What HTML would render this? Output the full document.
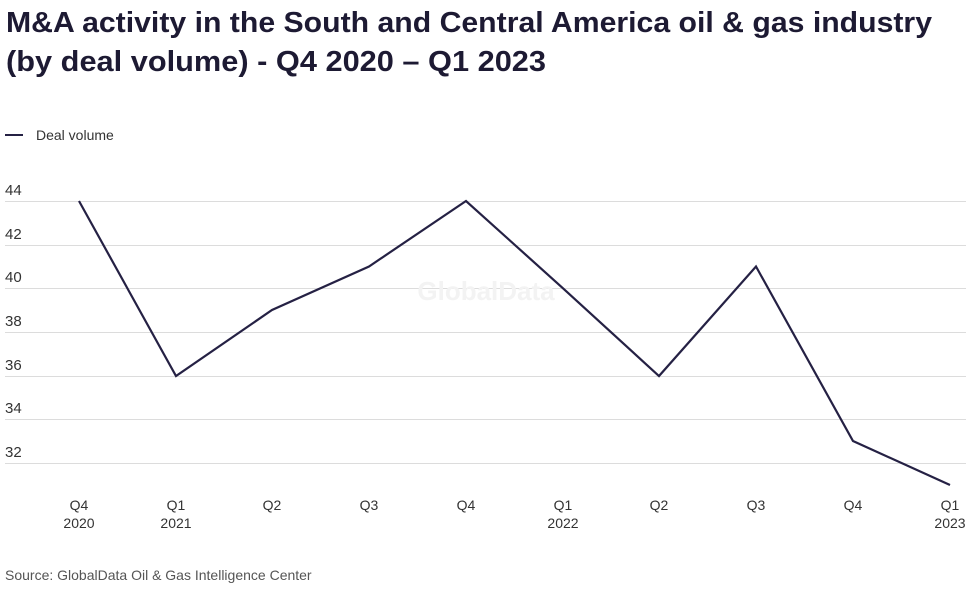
<!DOCTYPE html>
<html><head><style>
body{margin:0;background:#fff;width:973px;height:591px;overflow:hidden;font-family:"Liberation Sans",sans-serif;}
</style></head><body>
<svg width="973" height="591" xmlns="http://www.w3.org/2000/svg" font-family="Liberation Sans, sans-serif">
<text x="6" y="32" font-size="29" font-weight="bold" fill="#1d1a33" textLength="926" lengthAdjust="spacingAndGlyphs">M&amp;A activity in the South and Central America oil &amp; gas industry</text>
<text x="6" y="71" font-size="29" font-weight="bold" fill="#1d1a33" textLength="540" lengthAdjust="spacingAndGlyphs">(by deal volume) - Q4 2020 – Q1 2023</text>
<line x1="5" y1="135" x2="23" y2="135" stroke="#252144" stroke-width="2"/>
<text x="36" y="140" font-size="14" fill="#333">Deal volume</text>
<g stroke="#dcdcdc" stroke-width="1">
<line x1="5" x2="966" y1="201.5" y2="201.5"/>
<line x1="5" x2="966" y1="245.5" y2="245.5"/>
<line x1="5" x2="966" y1="288.5" y2="288.5"/>
<line x1="5" x2="966" y1="332.5" y2="332.5"/>
<line x1="5" x2="966" y1="376.5" y2="376.5"/>
<line x1="5" x2="966" y1="419.5" y2="419.5"/>
<line x1="5" x2="966" y1="463.5" y2="463.5"/>
</g>
<g font-size="15" fill="#333">
<text x="5" y="195">44</text><text x="5" y="239">42</text><text x="5" y="282">40</text>
<text x="5" y="326">38</text><text x="5" y="370">36</text><text x="5" y="413">34</text><text x="5" y="457">32</text>
</g>
<text x="486" y="300" font-size="26" font-weight="bold" fill="#f3f3f3" text-anchor="middle">GlobalData</text>
<polyline fill="none" stroke="#252144" stroke-width="2.2" stroke-linejoin="miter" points="79,201 176,376 272,310 369,266.5 466,201 563,288.3 659,376 756,266.5 853,441 950,485"/>
<g font-size="14" fill="#333" text-anchor="middle">
<text x="79" y="510">Q4</text><text x="79" y="528">2020</text>
<text x="176" y="510">Q1</text><text x="176" y="528">2021</text>
<text x="272" y="510">Q2</text><text x="369" y="510">Q3</text><text x="466" y="510">Q4</text>
<text x="563" y="510">Q1</text><text x="563" y="528">2022</text>
<text x="659" y="510">Q2</text><text x="756" y="510">Q3</text><text x="853" y="510">Q4</text>
<text x="950" y="510">Q1</text><text x="950" y="528">2023</text>
</g>
<text x="5" y="580" font-size="14" fill="#555">Source: GlobalData Oil &amp; Gas Intelligence Center</text>
</svg>
</body></html>
